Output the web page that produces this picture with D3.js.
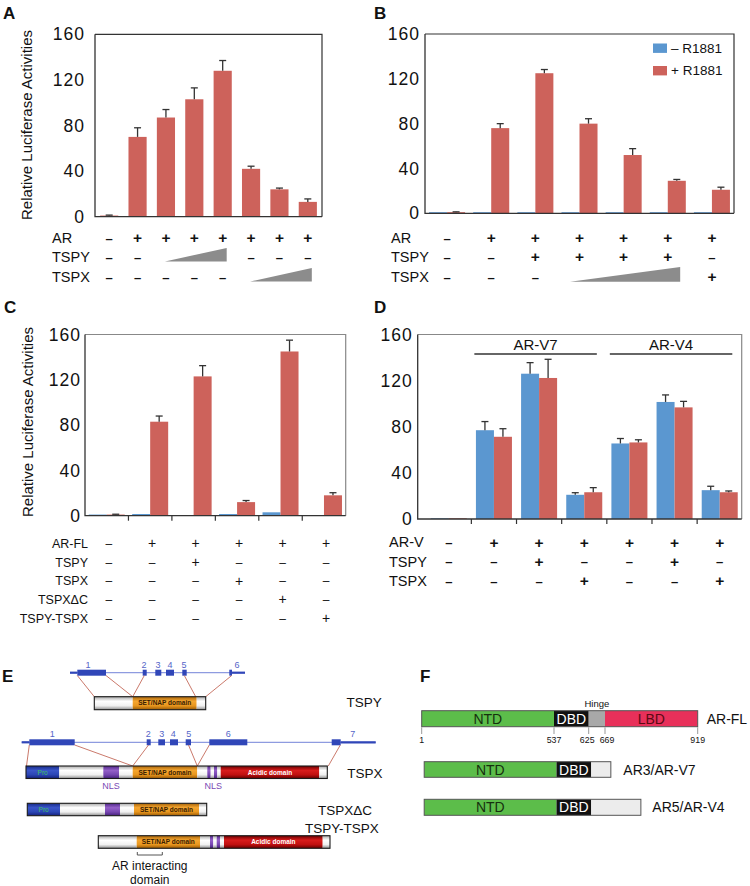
<!DOCTYPE html>
<html><head><meta charset="utf-8">
<script src="https://cdn.jsdelivr.net/npm/d3@7"></script>
<style>
body{margin:0;background:#fff}
text{font-family:"Liberation Sans",Arial,Helvetica,sans-serif;fill:#111}
</style></head><body>
<svg id="chart" width="750" height="886"></svg>
<script>
// ================= DATA =================
const yTicks=[0,40,80,120,160];
// Panel A
const aValues=[1,70,87,103,128,42,24,13];
const aErrors=[0.4,8,7,10,9,2.3,1.1,2.6];
const aRowLabels=["AR","TSPY","TSPX"];
const aRows=[["–","+","+","+","+","+","+","+"],["–","–","","","","–","–","–"],["–","–","–","–","–","","",""]];
const aWedges=[{row:1,from:2,to:4},{row:2,from:5,to:7}];
// Panel B
const bNeg=[1,1,1,1,1,1,1];
const bPos=[1,76,125,80,52,29,21];
const bPosErr=[0.3,4,3.3,4.4,5.7,1.2,2.3];
const bLegend=["– R1881","+ R1881"];
const bRowLabels=["AR","TSPY","TSPX"];
const bRows=[["–","+","+","+","+","+","+"],["–","–","+","+","+","+","–"],["–","–","–","","","","+"]];
const bWedges=[{row:2,from:3,to:5}];
// Panel C
const cNeg=[1,1.5,0.5,1.5,3,0.5];
const cPos=[1,83,123,12,145,18];
const cPosErr=[0.3,5,9.5,1.4,10,2.3];
const cRowLabels=["AR-FL","TSPY","TSPX","TSPXΔC","TSPY-TSPX"];
const cRows=[["–","+","+","+","+","+"],["–","–","+","–","–","–"],["–","–","–","+","–","–"],["–","–","–","–","+","–"],["–","–","–","–","–","+"]];
// Panel D
const dNeg=[0.6,77,126,21,65.5,101.5,25];
const dNegErr=[0,7.5,9.6,1.8,4.3,6.1,3.4];
const dPos=[0.6,71.3,122.3,23.2,66.4,96.8,23.2];
const dPosErr=[0,7,16.2,4,2.3,5.2,1.1];
const dGroups=[{name:"AR-V7",from:1,to:3},{name:"AR-V4",from:4,to:6}];
const dRowLabels=["AR-V","TSPY","TSPX"];
const dRows=[["–","+","+","+","+","+","+"],["–","–","+","–","–","+","–"],["–","–","–","+","–","–","+"]];
// Panel E (schematic units)
const tspyGene=[70,245];
const tspyUTR=[[70,77.3],[232,245]];
const tspyExons=[[77.3,106],[142.7,146.7],[155.3,161.3],[166,174],[182.3,186.7],[229.3,232]];
const tspyExonLabels=["1","2","3","4","5","6"];
const tspyExonLabelX=[88,144,158,170,184,237];
const tspyProtein=[[94.3,132.7,"plain"],[132.7,196.7,"set"],[196.7,205.7,"plain"]];
const tspyLinks=[[77.3,94.3],[106,132.7],[144.3,132.7],[184.3,195.7],[231.7,205.7]];
const tspxGene=[21.7,375.7];
const tspxUTR=[[21.7,29.3],[340.7,375.7]];
const tspxExons=[[29.3,74.7],[146.7,150.7],[158.3,165],[170,178],[185.7,191],[209.3,247.3],[331.7,340.7]];
const tspxExonLabels=["1","2","3","4","5","6","7"];
const tspxExonLabelX=[52.3,148.3,161.7,173.3,188.7,228.3,352.7];
const tspxProtein=[[26,59.3,"pro"],[59.3,103.3,"plain"],[103.3,119,"nls"],[119,132.7,"plain"],[132.7,197.3,"set"],[197.3,207.3,"plain"],[207.3,210.7,"nls"],[210.7,214,"plain"],[214,217.3,"nls"],[217.3,220.7,"plain"],[220.7,319.3,"acidic"],[319.3,327.3,"plain"]];
const tspxLinks=[[29.3,26.5],[74.7,132.7],[148.5,132.7],[188.5,197.3],[209.3,197.3],[340.3,328.3]];
const tspxNLS=[111,213.3];
const tspxdcProtein=[[27.3,60,"pro"],[60,105,"plain"],[105,120,"nls"],[120,134,"plain"],[134,199,"set"],[199,206.7,"plain"]];
const fusionProtein=[[98.3,136.7,"plain"],[136.7,200,"set"],[200,210,"plain"],[210,213.3,"nls"],[213.3,216.7,"plain"],[216.7,220,"nls"],[220,224,"plain"],[224,322.7,"acidic"],[322.7,330,"plain"]];
const arInteract=[137.3,162.3];
// Panel F (amino acids)
const arTicks=[1,537,625,669,919];
const arFL=[[1,537,"NTD"],[537,625,"DBD"],[625,669,"Hinge"],[669,919,"LBD"]];
const arV7=[[1,537,"NTD"],[537,625,"DBD"],[625,678,"rest"]];
const arV4=[[1,537,"NTD"],[537,625,"DBD"],[625,759,"rest"]];

// ================= DRAW =================
const svg=d3.select("#chart");
const RED="#cd625b", BLUE="#5b97d0";
const FONT='"Liberation Sans", Arial, Helvetica, sans-serif';

function panelLabel(t,x,y){
  svg.append("text").attr("x",x).attr("y",y).attr("font-size",17).attr("font-weight","bold").text(t);
}

function barChart(o){
  const g=svg.append("g");
  const y=d3.scaleLinear().domain([0,160]).range([o.bottom,o.top]);
  const x0=d3.scaleBand().domain(d3.range(o.n)).range([o.bandL,o.bandR]).paddingInner(o.pi).paddingOuter(o.po);
  const x1=d3.scaleBand().domain(d3.range(o.series.length)).range([0,x0.bandwidth()]).paddingOuter(o.spo);
  o.series.forEach((s,si)=>{
    const gg=g.append("g");
    gg.selectAll("rect").data(s.values).join("rect")
      .attr("x",(d,i)=>x0(i)+x1(si)).attr("width",x1.bandwidth())
      .attr("y",d=>y(d)).attr("height",d=>y(0)-y(d)).attr("fill",s.color);
    if(s.errors){
      const ed=s.values.map((v,i)=>({v,e:s.errors[i],i})).filter(d=>d.e>0);
      const cx=d=>x0(d.i)+x1(si)+x1.bandwidth()/2;
      gg.selectAll("line.stem").data(ed).join("line").attr("class","stem")
        .attr("x1",cx).attr("x2",cx).attr("y1",d=>y(d.v)).attr("y2",d=>y(d.v+d.e))
        .attr("stroke","#333").attr("stroke-width",1.3);
      gg.selectAll("line.cap").data(ed).join("line").attr("class","cap")
        .attr("x1",d=>cx(d)-3.5).attr("x2",d=>cx(d)+3.5).attr("y1",d=>y(d.v+d.e)).attr("y2",d=>y(d.v+d.e))
        .attr("stroke","#333").attr("stroke-width",1.3);
    }
  });
  // frame
  g.append("path").attr("d",`M${o.left},${o.top}H${o.right}V${y(0)}`).attr("fill","none")
    .attr("stroke",o.frame).attr("stroke-width",1.2);
  g.append("path").attr("d",`M${o.left},${o.top}V${y(0)}H${o.right}`).attr("fill","none")
    .attr("stroke","#333").attr("stroke-width",1.3);
  if(o.groupTicks){
    g.selectAll("line.gt").data(d3.range(1,o.n)).join("line").attr("class","gt")
      .attr("x1",i=>x0(i)).attr("x2",i=>x0(i)).attr("y1",y(0)).attr("y2",y(0)+5)
      .attr("stroke","#333").attr("stroke-width",1.2);
  }
  const ax=g.append("g").attr("transform",`translate(${o.left},0)`)
    .call(d3.axisLeft(y).tickValues(yTicks).tickSize(0).tickPadding(o.tickPad));
  ax.select(".domain").remove();
  ax.attr("font-family",FONT).attr("font-size",17.5);
  ax.selectAll("text").attr("fill","#111").attr("letter-spacing","1px");
  return {x0,x1,y,g};
}

function table(o){
  const g=svg.append("g");
  o.labels.forEach((lab,r)=>{
    g.append("text").attr("x",o.labelX).attr("y",o.rowY[r]).attr("dy","0.35em")
      .attr("text-anchor",o.anchor).attr("font-size",o.labelSize).text(lab);
    g.append("g").selectAll("text").data(o.rows[r].map((c,i)=>({c,i})).filter(d=>d.c!==""))
      .join("text").attr("x",d=>o.colX(d.i)).attr("y",o.rowY[r]).attr("dy","0.35em")
      .attr("text-anchor","middle")
      .attr("font-size",d=>d.c==="+"?o.plusSize:o.dashSize)
      .attr("font-weight",o.weight).style("fill","#111").text(d=>d.c);
  });
  (o.wedges||[]).forEach(w=>{
    const xa=o.colX(w.from)+o.wdx0, xb=o.colX(w.to)+o.wdx1;
    const yb=o.rowY[w.row]+o.wb, yt=yb-o.wh;
    g.append("path").attr("d",`M${xa},${yb}L${xb},${yb}L${xb},${yt}Z`).attr("fill","#8c8c8c");
  });
}

function yLabel(x,y){
  svg.append("text").attr("transform",`translate(${x},${y}) rotate(-90)`).attr("text-anchor","middle")
    .attr("dy","0.35em").attr("font-size",15).text("Relative Luciferase Activities");
}

// ---------- Panel A ----------
panelLabel("A",3,18.5);
const A=barChart({n:aValues.length,bandL:95,bandR:322,pi:0.36,po:0.18,spo:0,left:95,right:322,top:34.3,bottom:216.7,
  frame:"#333",tickPad:10,series:[{values:aValues,errors:aErrors,color:RED}]});
yLabel(27,125);
table({labels:aRowLabels,rows:aRows,rowY:[238,257,277],labelX:52,anchor:"start",labelSize:14.5,
  colX:i=>A.x0(i)+A.x0.bandwidth()/2,plusSize:15.5,dashSize:13,weight:"bold",
  wedges:aWedges,wdx0:-1,wdx1:4,wb:4.5,wh:13.6});

// ---------- Panel B ----------
panelLabel("B",374,18.5);
const B=barChart({n:bPos.length,bandL:425,bandR:734,pi:0,po:0,spo:0.225,left:425,right:734,top:34,bottom:213.3,
  frame:"#333",tickPad:5,series:[{values:bNeg,color:BLUE},{values:bPos,errors:bPosErr,color:RED}]});
const leg=svg.append("g");
leg.selectAll("rect").data(bLegend).join("rect").attr("x",653).attr("y",(d,i)=>43.5+i*22.5)
  .attr("width",14).attr("height",9.4).attr("fill",(d,i)=>i?RED:BLUE);
leg.selectAll("text").data(bLegend).join("text").attr("x",671).attr("y",(d,i)=>48.2+i*22.5).attr("dy","0.35em")
  .attr("font-size",13.5).text(d=>d);
table({labels:bRowLabels,rows:bRows,rowY:[238,257,277],labelX:391,anchor:"start",labelSize:14.5,
  colX:i=>B.x0(i)+B.x0.bandwidth()/2,plusSize:15.5,dashSize:13,weight:"bold",
  wedges:bWedges,wdx0:-9.4,wdx1:12.4,wb:4.7,wh:14.7});

// ---------- Panel C ----------
panelLabel("C",4,313);
const C=barChart({n:cPos.length,bandL:85,bandR:345.7,pi:0,po:0,spo:0.207,left:85,right:345.7,top:334.5,bottom:515.7,
  frame:"#888",tickPad:4,groupTicks:true,series:[{values:cNeg,color:BLUE},{values:cPos,errors:cPosErr,color:RED}]});
yLabel(28,422);
table({labels:cRowLabels,rows:cRows,rowY:[543.3,562.3,581,599.3,618.3],labelX:88,anchor:"end",labelSize:12.5,
  colX:i=>C.x0(i)+C.x0.bandwidth()/2+2,plusSize:14,dashSize:12,weight:"normal"});

// ---------- Panel D ----------
panelLabel("D",374,313);
const D=barChart({n:dPos.length,bandL:426.2,bandR:742.3,pi:0,po:0,spo:0.254,left:417.7,right:741.7,top:334.5,bottom:519,
  frame:"#888",tickPad:5,groupTicks:true,
  series:[{values:dNeg,errors:dNegErr,color:BLUE},{values:dPos,errors:dPosErr,color:RED}]});
const dg=svg.append("g");
dGroups.forEach(gr=>{
  const xa=D.x0(gr.from)+3, xb=D.x0(gr.to)+D.x0.bandwidth()-10;
  dg.append("line").attr("x1",xa).attr("x2",xb).attr("y1",354).attr("y2",354).attr("stroke","#333").attr("stroke-width",1.3);
  dg.append("text").attr("x",(xa+xb)/2).attr("y",350).attr("text-anchor","middle").attr("font-size",15).text(gr.name);
});
table({labels:dRowLabels,rows:dRows,rowY:[542.3,561.7,581],labelX:389,anchor:"start",labelSize:14.5,
  colX:i=>D.x0(i)+D.x0.bandwidth()/2,plusSize:15.5,dashSize:13,weight:"bold"});

// ---------- Panel E ----------
panelLabel("E",2,682);
const defs=svg.append("defs");
const grads={plain:["#a8a8a8","#ffffff","#f0f0f0","#8e8e8e"],set:["#a8640a","#f5a630","#e8961e","#9a5a05"],
  acidic:["#6a0000","#d81c1c","#c01010","#650000"],pro:["#162a88","#3a55c8","#2b46b5","#14207a"],
  nls:["#4e2686","#9460c8","#7646b0","#45207a"]};
Object.entries(grads).forEach(([k,c])=>{
  const lg=defs.append("linearGradient").attr("id","g-"+k).attr("x1",0).attr("y1",0).attr("x2",0).attr("y2",1);
  [0,0.35,0.7,1].forEach((o,i)=>lg.append("stop").attr("offset",o).attr("stop-color",c[i]));
});
const xE=d3.scaleLinear().domain([0,375]).range([0,375]);
const eg=svg.append("g");
function gene(geneR,utr,exons,labs,labX,y){
  eg.append("line").attr("x1",xE(geneR[0])).attr("x2",xE(geneR[1])).attr("y1",y).attr("y2",y).attr("stroke","#8e9be0").attr("stroke-width",1.3);
  utr.forEach(u=>eg.append("line").attr("x1",xE(u[0])).attr("x2",xE(u[1])).attr("y1",y).attr("y2",y).attr("stroke","#3046b8").attr("stroke-width",2.2));
  eg.append("g").selectAll("rect").data(exons).join("rect").attr("x",d=>xE(d[0])).attr("width",d=>xE(d[1])-xE(d[0]))
    .attr("y",y-3).attr("height",6).attr("fill","#3046b8");
  eg.append("g").selectAll("text").data(labs).join("text").attr("x",(d,i)=>xE(labX[i])).attr("y",y-5)
    .attr("text-anchor","middle").attr("font-size",9).style("fill","#5565c8").text(d=>d);
}
function links(arr,y1,y2){
  eg.append("g").selectAll("line").data(arr).join("line").attr("x1",d=>xE(d[0])).attr("x2",d=>xE(d[1]))
    .attr("y1",y1).attr("y2",y2).attr("stroke","#c46a5a").attr("stroke-width",0.9);
}
function protein(segs,y,h){
  const pg=eg.append("g");
  pg.selectAll("rect").data(segs).join("rect").attr("x",d=>xE(d[0])).attr("width",d=>xE(d[1])-xE(d[0]))
    .attr("y",y).attr("height",h).attr("fill",d=>`url(#g-${d[2]})`);
  pg.append("rect").attr("x",xE(segs[0][0])).attr("width",xE(segs[segs.length-1][1])-xE(segs[0][0]))
    .attr("y",y).attr("height",h).attr("fill","none").attr("stroke","#1a1a1a").attr("stroke-width",1.1);
  const txt={pro:["Pro","#3fc060","normal"],set:["SET/NAP domain","#3a2000","bold"],acidic:["Acidic domain","#ffffff","bold"]};
  pg.selectAll("text").data(segs.filter(d=>txt[d[2]])).join("text")
    .attr("x",d=>xE((d[0]+d[1])/2)).attr("y",y+h/2).attr("dy","0.35em").attr("text-anchor","middle")
    .attr("font-size",6.5).attr("font-weight",d=>txt[d[2]][2]).style("fill",d=>txt[d[2]][1]).text(d=>txt[d[2]][0]);
}
function eLabel(t,x,y){eg.append("text").attr("x",x).attr("y",y).attr("font-size",13.5).text(t);}

gene(tspyGene,tspyUTR,tspyExons,tspyExonLabels,tspyExonLabelX,672.7);
links(tspyLinks,675.5,696.7);
protein(tspyProtein,696.7,13);
eLabel("TSPY",346.5,707);

gene(tspxGene,tspxUTR,tspxExons,tspxExonLabels,tspxExonLabelX,742.3);
links(tspxLinks,745,766);
protein(tspxProtein,766,12.5);
eg.append("g").selectAll("text").data(tspxNLS).join("text").attr("x",d=>xE(d)).attr("y",788.5)
  .attr("text-anchor","middle").attr("font-size",9).style("fill","#7a4ab5").text("NLS");
eLabel("TSPX",347.3,777.5);

protein(tspxdcProtein,803.3,12.4);
eLabel("TSPXΔC",318,815);
eLabel("TSPY-TSPX",305,833.3);
protein(fusionProtein,835.7,12.6);
eg.append("path").attr("d",`M${xE(arInteract[0])},852V855H${xE(arInteract[1])}V852`).attr("fill","none").attr("stroke","#555").attr("stroke-width",1);
eg.append("text").attr("x",xE((arInteract[0]+arInteract[1])/2)).attr("y",869.5).attr("text-anchor","middle").attr("font-size",12).text("AR interacting");
eg.append("text").attr("x",xE((arInteract[0]+arInteract[1])/2)).attr("y",884).attr("text-anchor","middle").attr("font-size",12).text("domain");

// ---------- Panel F ----------
panelLabel("F",420,682);
const xF=d3.scaleLinear().domain([1,537,625,669,919]).range([421.7,554,588.7,605,697.7]);
const fStyle={NTD:["#5cbd4a","#16300e","NTD"],DBD:["#111111","#ffffff","DBD"],Hinge:["#a8a8a8","#111",""],
  LBD:["#e8305a","#5a0a14","LBD"],rest:["#ececec","#111",""]};
const fg=svg.append("g");
function arBar(segs,dx,y,h,label,lx){
  const bg=fg.append("g").attr("transform",`translate(${dx},0)`);
  bg.selectAll("rect").data(segs).join("rect").attr("x",d=>xF(d[0])).attr("width",d=>xF(d[1])-xF(d[0]))
    .attr("y",y).attr("height",h).attr("fill",d=>fStyle[d[2]][0]);
  bg.append("rect").attr("x",xF(segs[0][0])).attr("width",xF(segs[segs.length-1][1])-xF(segs[0][0]))
    .attr("y",y).attr("height",h).attr("fill","none").attr("stroke","#555").attr("stroke-width",1);
  bg.selectAll("text").data(segs.filter(d=>fStyle[d[2]][2])).join("text")
    .attr("x",d=>(xF(d[0])+xF(d[1]))/2).attr("y",y+h/2).attr("dy","0.36em").attr("text-anchor","middle")
    .attr("font-size",14).style("fill",d=>fStyle[d[2]][1]).text(d=>fStyle[d[2]][2]);
  fg.append("text").attr("x",lx).attr("y",y+h/2).attr("dy","0.36em").attr("font-size",14).text(label);
}
arBar(arFL,0,710.7,16,"AR-FL",706.7);
fg.append("text").attr("x",xF(647)).attr("y",706.5).attr("text-anchor","middle").attr("font-size",9.5).text("Hinge");
fg.selectAll("line.tk").data(arTicks).join("line").attr("class","tk").attr("x1",d=>xF(d)).attr("x2",d=>xF(d))
  .attr("y1",727.3).attr("y2",734).attr("stroke","#999").attr("stroke-width",1);
fg.selectAll("text.tk").data(arTicks).join("text").attr("class","tk")
  .attr("x",(d,i)=>xF(d)+(i===2?-1.5:i===3?2:0)).attr("y",743)
  .attr("text-anchor","middle").attr("font-size",8.8).text(d=>d);
arBar(arV7,2.5,761.7,15.6,"AR3/AR-V7",623.3);
arBar(arV4,2.5,799.3,16,"AR5/AR-V4",652.3);
</script>
</body></html>
